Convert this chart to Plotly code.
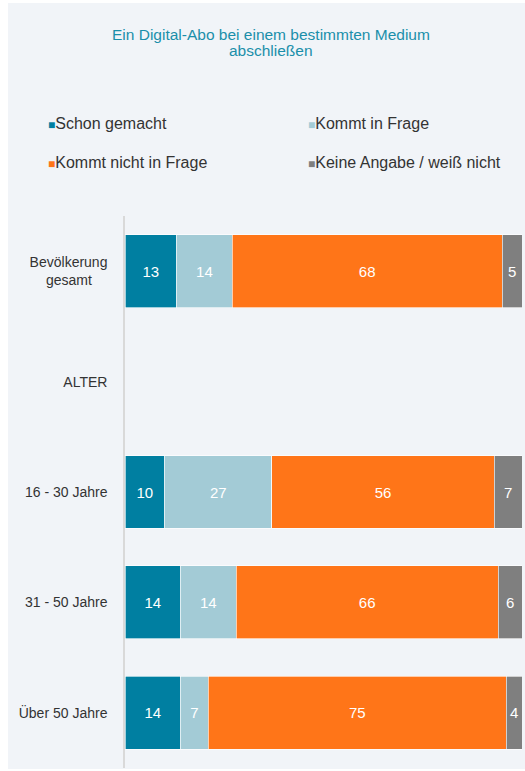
import plotly.graph_objects as go

categories = ["Bevölkerung<br>gesamt\u00a0\u00a0\u00a0\u00a0", "ALTER", "16 - 30 Jahre", "31 - 50 Jahre", "Über 50 Jahre"]
series_names = ["Schon gemacht", "Kommt in Frage", "Kommt nicht in Frage", "Keine Angabe / weiß nicht"]
schon_gemacht = [13, None, 10, 14, 14]
kommt_in_frage = [14, None, 27, 14, 7]
kommt_nicht_in_frage = [68, None, 56, 66, 75]
keine_angabe = [5, None, 7, 6, 4]
colors = ["#007FA1", "#A3CBD6", "#FF7518", "#7F7F7F"]
title_lines = ["Ein Digital-Abo bei einem bestimmten Medium", "abschließen"]

values = [schon_gemacht, kommt_in_frage, kommt_nicht_in_frage, keine_angabe]
FONT = "Liberation Sans, Arial, sans-serif"

fig = go.Figure()
for name, vals, col in zip(series_names, values, colors):
    fig.add_trace(go.Bar(
        y=categories, x=vals, name=name, orientation="h",
        marker=dict(color=col, line=dict(color="rgba(255,255,255,0.8)", width=0.8)),
        text=[("" if v is None else str(v)) for v in vals],
        textposition="inside", insidetextanchor="middle",
        textfont=dict(color="white", size=15, family=FONT),
        constraintext="none", width=0.66, showlegend=False,
        hoverinfo="x+name",
    ))

W, H = 525, 771
ml, mr, mt, mb = 125, 3, 216, 3
pw, ph = W - ml - mr, H - mt - mb

def px(x):
    return (x - ml) / pw

def py(y):
    return (H - mb - y) / ph

shapes = [dict(type="rect", xref="paper", yref="paper", layer="below",
               x0=px(8), x1=px(525), y0=py(769), y1=py(3),
               fillcolor="#F1F4F8", line=dict(width=0))]

annotations = []
for line, ty in zip(title_lines, [34, 50]):
    annotations.append(dict(text=line, xref="paper", yref="paper", x=px(271), y=py(ty),
                            showarrow=False, xanchor="center", yanchor="middle",
                            font=dict(size=15.5, color="#1B8FAA", family=FONT)))

legend_pos = [(46, 123), (306, 123), (46, 163), (306, 163)]
for (lx, ly), name, col in zip(legend_pos, series_names, colors):
    annotations.append(dict(
        text=f"<span style='color:{col};font-size:12px'>■</span>{name}",
        xref="paper", yref="paper", x=px(lx), y=py(ly), showarrow=False,
        xanchor="left", yanchor="middle",
        font=dict(size=16, color="#333333", family=FONT)))

fig.update_layout(
    width=W, height=H, barmode="stack", bargap=0.34,
    margin=dict(l=ml, r=mr, t=mt, b=mb, pad=0),
    paper_bgcolor="white", plot_bgcolor="rgba(0,0,0,0)",
    shapes=shapes, annotations=annotations,
    font=dict(family=FONT),
    xaxis=dict(range=[0, 100], visible=False, fixedrange=True),
    yaxis=dict(autorange="reversed", showline=True, linecolor="#D9D9D9", linewidth=1.5,
               showgrid=False, ticks="", ticklabelstandoff=13,
               tickfont=dict(size=14, color="#333333")),
)

fig.write_html("out.html", config={"displayModeBar": False},
               post_script="document.body.style.margin='0';document.body.style.overflow='hidden';")
